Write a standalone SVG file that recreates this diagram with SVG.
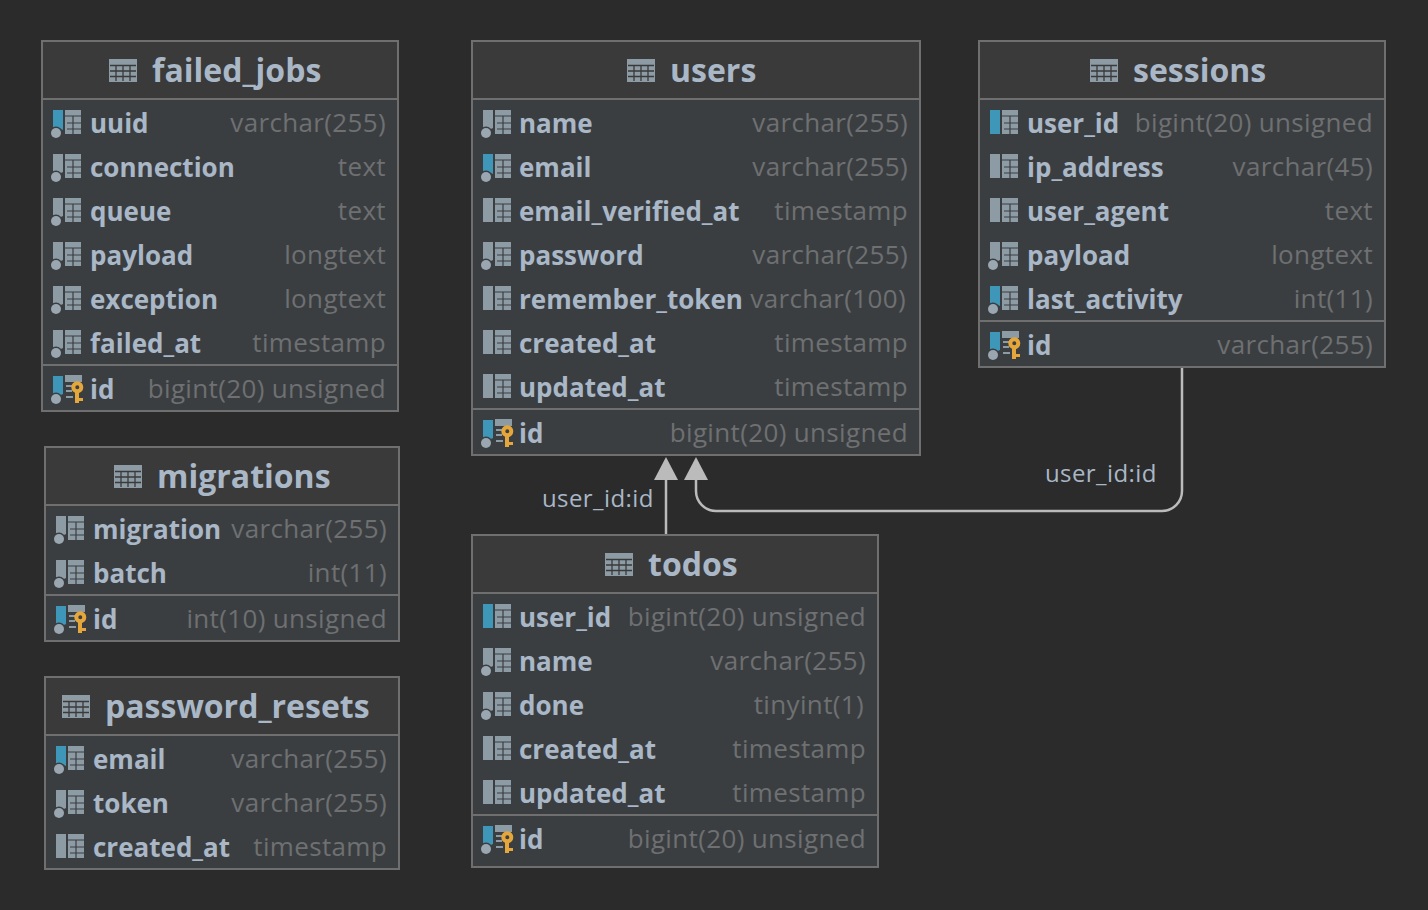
<svg xmlns="http://www.w3.org/2000/svg" xmlns:xlink="http://www.w3.org/1999/xlink" width="1428" height="910" viewBox="0 0 1428 910">
<style>
text{font-family:"Open Sans","Liberation Sans",sans-serif}
.box{fill:#3b3e41;stroke:#6f6f6f;stroke-width:2}
.hd{fill:#3a3a3a}
.div{stroke:#6f6f6f;stroke-width:2;fill:none}
.title{font-size:32px;font-weight:700;fill:#a9b7c6;transform:translateY(1px)}
.n{font-size:26px;font-weight:700;fill:#a9b7c6;transform:translateY(1px)}
.t{font-size:26px;fill:#6e7072;text-anchor:end;letter-spacing:.35px}
.lbl{font-size:24px;fill:#a9b7c6;letter-spacing:.4px}
.conn{fill:none;stroke:#bbbbbb;stroke-width:2.5}
.arrow{fill:#bbbbbb}
</style>
<defs>
<g id="tbl"><rect x="12" y="-13" width="16" height="24" fill="#8d9ba5"/><path d="M12-7H28M14 0H28M14 6H28M20-7V11" stroke="#3b3e41" stroke-width="1.2" fill="none"/></g>
<g id="plain"><rect x="0" y="-13" width="10" height="24" fill="#8d9ba5"/><use href="#tbl"/></g>
<g id="fk"><rect x="0" y="-13" width="10" height="24" fill="#3e96b8"/><use href="#tbl"/></g>
<g id="dot"><circle cx="3" cy="10" r="6.5" fill="#3b3e41"/><circle cx="3" cy="10" r="5" fill="#9aa7b0"/></g>
<g id="nn"><path d="M0-13H10V5L6 7H0Z" fill="#8d9ba5"/><use href="#tbl"/><use href="#dot"/></g>
<g id="ix"><path d="M0-13H10V7L6 5H0Z" fill="#3e96b8"/><use href="#tbl"/><use href="#dot"/></g>
<g id="pk"><path d="M0-13H10V5L6 7H0Z" fill="#3e96b8"/><path d="M13-13H28V-8H13ZM13-3H19M13 2H19M13 8H20" stroke="#8d9ba5" stroke-width="2" fill="#8d9ba5"/><use href="#dot"/><circle cx="24.3" cy="-1.7" r="4" fill="none" stroke="#e5a73b" stroke-width="4"/><path d="M22 3H26V14H22ZM26 9H30V12H26Z" fill="#e5a73b"/></g>
<g id="th"><rect x="0" y="0" width="28" height="23" fill="#8d9ba5"/><path d="M1 6.5H27M1 12H27M1 17.5H27M7 6.5V22M14 6.5V22M21 6.5V22" stroke="#3a3a3a" stroke-width="1.3" fill="none"/></g>
</defs>
<rect width="1428" height="910" fill="#2b2b2b"/>
<g id="connectors">
<path class="conn" d="M666 534V478"/>
<path class="arrow" d="M666 457L678 480H654Z"/>
<path class="conn" d="M1182 368V491A20 20 0 0 1 1162 511H716A20 20 0 0 1 696 491V478"/>
<path class="arrow" d="M696 457L708 480H684Z"/>
<text class="lbl" x="542" y="507">user_id:id</text>
<text class="lbl" x="1045" y="482">user_id:id</text>
</g>
<g id="failed_jobs">
<rect class="box" x="42" y="41" width="356" height="370"/><rect class="hd" x="43" y="42" width="354" height="57"/>
<path class="div" d="M43 99H397M43 365H397"/>
<use href="#th" x="109" y="59"/><text class="title" x="152" y="81">failed_jobs</text>
<use href="#ix" x="53" y="123"/><text class="n" x="90" y="132">uuid</text><text class="t" x="386" y="132">varchar(255)</text>
<use href="#nn" x="53" y="167"/><text class="n" x="90" y="176">connection</text><text class="t" x="386" y="176">text</text>
<use href="#nn" x="53" y="211"/><text class="n" x="90" y="220">queue</text><text class="t" x="386" y="220">text</text>
<use href="#nn" x="53" y="255"/><text class="n" x="90" y="264">payload</text><text class="t" x="386" y="264">longtext</text>
<use href="#nn" x="53" y="299"/><text class="n" x="90" y="308">exception</text><text class="t" x="386" y="308">longtext</text>
<use href="#nn" x="53" y="343"/><text class="n" x="90" y="352">failed_at</text><text class="t" x="386" y="352">timestamp</text>
<use href="#pk" x="53" y="389"/><text class="n" x="90" y="398">id</text><text class="t" x="386" y="398">bigint(20) unsigned</text>
</g>
<g id="migrations">
<rect class="box" x="45" y="447" width="354" height="194"/><rect class="hd" x="46" y="448" width="352" height="57"/>
<path class="div" d="M46 505H398M46 595H398"/>
<use href="#th" x="114" y="465"/><text class="title" x="157" y="487">migrations</text>
<use href="#nn" x="56" y="529"/><text class="n" x="93" y="538">migration</text><text class="t" x="387" y="538">varchar(255)</text>
<use href="#nn" x="56" y="573"/><text class="n" x="93" y="582">batch</text><text class="t" x="387" y="582">int(11)</text>
<use href="#pk" x="56" y="619"/><text class="n" x="93" y="628">id</text><text class="t" x="387" y="628">int(10) unsigned</text>
</g>
<g id="password_resets">
<rect class="box" x="45" y="677" width="354" height="192"/><rect class="hd" x="46" y="678" width="352" height="57"/>
<path class="div" d="M46 735H398"/>
<use href="#th" x="62" y="695"/><text class="title" x="105" y="717">password_resets</text>
<use href="#ix" x="56" y="759"/><text class="n" x="93" y="768">email</text><text class="t" x="387" y="768">varchar(255)</text>
<use href="#nn" x="56" y="803"/><text class="n" x="93" y="812">token</text><text class="t" x="387" y="812">varchar(255)</text>
<use href="#plain" x="56" y="847"/><text class="n" x="93" y="856">created_at</text><text class="t" x="387" y="856">timestamp</text>
</g>
<g id="users">
<rect class="box" x="472" y="41" width="448" height="414"/><rect class="hd" x="473" y="42" width="446" height="57"/>
<path class="div" d="M473 99H919M473 409H919"/>
<use href="#th" x="627" y="59"/><text class="title" x="670" y="81">users</text>
<use href="#nn" x="483" y="123"/><text class="n" x="519" y="132">name</text><text class="t" x="908" y="132">varchar(255)</text>
<use href="#ix" x="483" y="167"/><text class="n" x="519" y="176">email</text><text class="t" x="908" y="176">varchar(255)</text>
<use href="#plain" x="483" y="211"/><text class="n" x="519" y="220">email_verified_at</text><text class="t" x="908" y="220">timestamp</text>
<use href="#nn" x="483" y="255"/><text class="n" x="519" y="264">password</text><text class="t" x="908" y="264">varchar(255)</text>
<use href="#plain" x="483" y="299"/><text class="n" x="519" y="308">remember_token</text><text class="t" x="906" y="308">varchar(100)</text>
<use href="#plain" x="483" y="343"/><text class="n" x="519" y="352">created_at</text><text class="t" x="908" y="352">timestamp</text>
<use href="#plain" x="483" y="387"/><text class="n" x="519" y="396">updated_at</text><text class="t" x="908" y="396">timestamp</text>
<use href="#pk" x="483" y="433"/><text class="n" x="519" y="442">id</text><text class="t" x="908" y="442">bigint(20) unsigned</text>
</g>
<g id="sessions">
<rect class="box" x="979" y="41" width="406" height="326"/><rect class="hd" x="980" y="42" width="404" height="57"/>
<path class="div" d="M980 99H1384M980 321H1384"/>
<use href="#th" x="1090" y="59"/><text class="title" x="1133" y="81">sessions</text>
<use href="#fk" x="990" y="123"/><text class="n" x="1027" y="132">user_id</text><text class="t" x="1373" y="132">bigint(20) unsigned</text>
<use href="#plain" x="990" y="167"/><text class="n" x="1027" y="176">ip_address</text><text class="t" x="1373" y="176">varchar(45)</text>
<use href="#plain" x="990" y="211"/><text class="n" x="1027" y="220">user_agent</text><text class="t" x="1373" y="220">text</text>
<use href="#nn" x="990" y="255"/><text class="n" x="1027" y="264">payload</text><text class="t" x="1373" y="264">longtext</text>
<use href="#ix" x="990" y="299"/><text class="n" x="1027" y="308">last_activity</text><text class="t" x="1373" y="308">int(11)</text>
<use href="#pk" x="990" y="345"/><text class="n" x="1027" y="354">id</text><text class="t" x="1373" y="354">varchar(255)</text>
</g>
<g id="todos">
<rect class="box" x="472" y="535" width="406" height="332"/><rect class="hd" x="473" y="536" width="404" height="57"/>
<path class="div" d="M473 593H877M473 815H877"/>
<use href="#th" x="605" y="553"/><text class="title" x="648" y="575">todos</text>
<use href="#fk" x="483" y="617"/><text class="n" x="519" y="626">user_id</text><text class="t" x="866" y="626">bigint(20) unsigned</text>
<use href="#nn" x="483" y="661"/><text class="n" x="519" y="670">name</text><text class="t" x="866" y="670">varchar(255)</text>
<use href="#nn" x="483" y="705"/><text class="n" x="519" y="714">done</text><text class="t" x="864" y="714">tinyint(1)</text>
<use href="#plain" x="483" y="749"/><text class="n" x="519" y="758">created_at</text><text class="t" x="866" y="758">timestamp</text>
<use href="#plain" x="483" y="793"/><text class="n" x="519" y="802">updated_at</text><text class="t" x="866" y="802">timestamp</text>
<use href="#pk" x="483" y="839"/><text class="n" x="519" y="848">id</text><text class="t" x="866" y="848">bigint(20) unsigned</text>
</g>
</svg>
